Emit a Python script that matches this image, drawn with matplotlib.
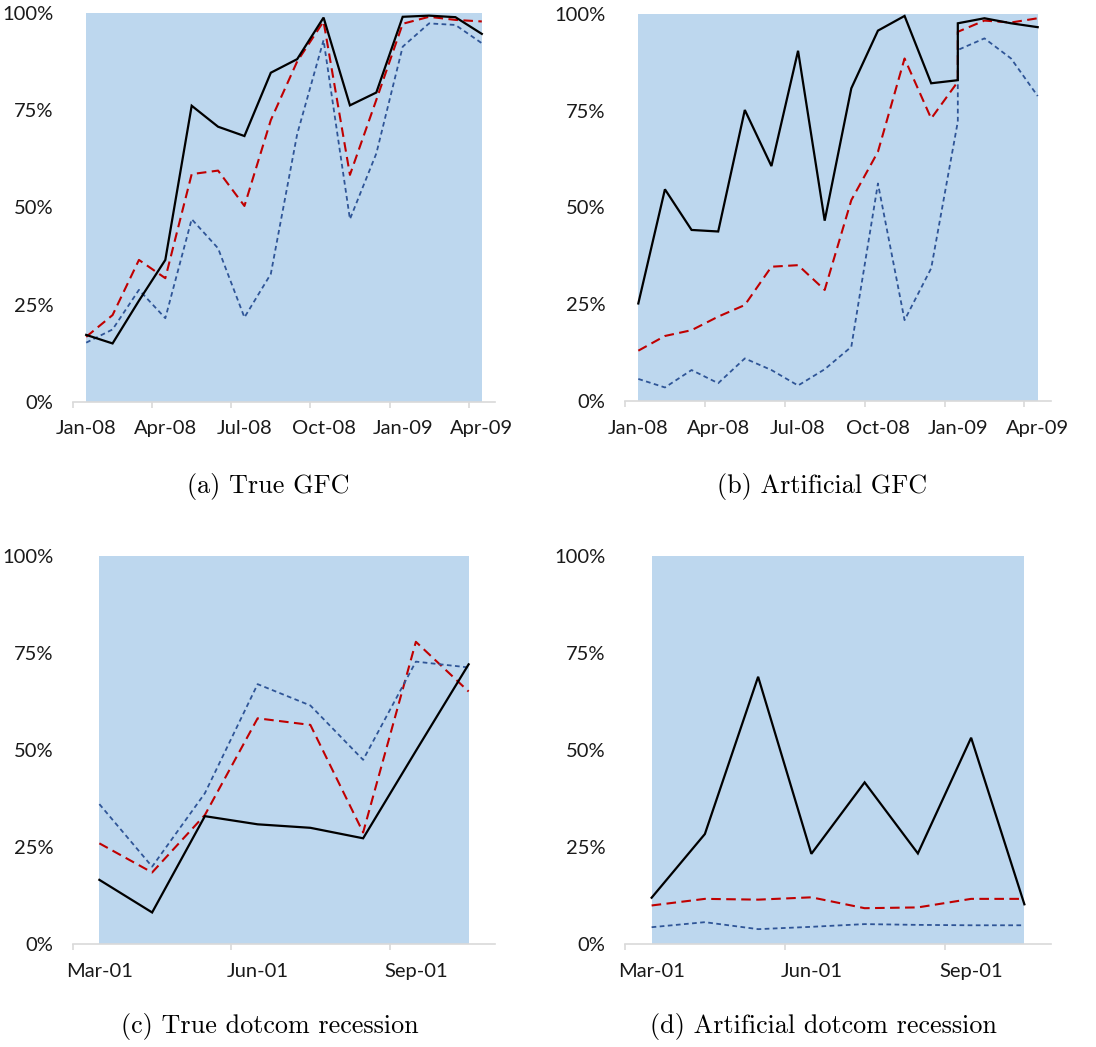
import matplotlib
matplotlib.use("Agg")
import matplotlib.pyplot as plt
from matplotlib.ticker import FixedLocator, NullFormatter, FixedFormatter

# ---- data -------------------------------------------------------------
gfc_months = ["Jan-08", "Feb-08", "Mar-08", "Apr-08", "May-08", "Jun-08",
              "Jul-08", "Aug-08", "Sep-08", "Oct-08", "Nov-08", "Dec-08",
              "Jan-09", "Feb-09", "Mar-09", "Apr-09"]
dotcom_months = ["Mar-01", "Apr-01", "May-01", "Jun-01", "Jul-01",
                 "Aug-01", "Sep-01", "Oct-01"]

# (a) true GFC
true_gfc_x = list(range(16))
true_gfc_black = [17.2, 15.0, 26.0, 36.5, 76.2, 70.8, 68.4, 84.7,
                  88.2, 98.9, 76.3, 79.6, 99.1, 99.4, 99.0, 94.7]
true_gfc_red = [16.7, 22.3, 36.5, 31.8, 58.6, 59.5, 50.4, 72.5,
                87.6, 97.9, 58.4, 77.7, 97.3, 99.1, 98.3, 97.9]
true_gfc_blue = [15.2, 18.6, 28.8, 21.5, 47.0, 39.5, 21.7, 32.9,
                 68.9, 93.1, 47.0, 63.9, 91.4, 97.4, 97.0, 92.3]

# (b) artificial GFC (two observations fall in Jan-09)
art_gfc_x = [0, 1, 2, 3, 4, 5, 6, 7, 8, 9, 10, 11, 12, 12, 13, 14, 15]
art_gfc_black = [25.2, 54.7, 44.2, 43.8, 75.2, 60.7, 90.5, 46.6, 80.8,
                 95.7, 99.5, 82.1, 82.9, 97.6, 98.9, 97.6, 96.6]
art_gfc_red = [13.0, 16.8, 18.3, 21.8, 24.8, 34.7, 35.1, 28.7, 51.9,
               64.4, 88.5, 73.0, 82.5, 95.4, 98.3, 97.8, 98.9]
art_gfc_blue = [5.7, 3.5, 8.0, 4.6, 11.0, 8.0, 4.0, 8.2, 14.0,
                56.2, 20.9, 34.3, 72.2, 90.7, 93.7, 88.5, 78.8]

# (c) true dotcom recession
true_dot_x = list(range(8))
true_dot_black = [16.6, 8.2, 33.0, 30.9, 30.0, 27.3, 49.8, 72.1]
true_dot_red = [26.0, 18.5, 33.3, 58.2, 56.5, 28.8, 77.9, 65.1]
true_dot_blue = [36.1, 20.0, 38.9, 67.0, 61.5, 47.5, 72.8, 71.3]

# (d) artificial dotcom recession
art_dot_x = list(range(8))
art_dot_black = [12.0, 28.4, 68.9, 23.3, 41.7, 23.4, 53.2, 10.3]
art_dot_red = [10.0, 11.7, 11.5, 12.1, 9.3, 9.5, 11.7, 11.7]
art_dot_blue = [4.4, 5.7, 3.9, 4.5, 5.2, 5.0, 4.9, 4.9]

y_ticks = [0, 25, 50, 75, 100]
y_labels = ["0%", "25%", "50%", "75%", "100%"]
captions = ["(a) True GFC", "(b) Artificial GFC",
            "(c) True dotcom recession", "(d) Artificial dotcom recession"]

# ---- styling ----------------------------------------------------------
SHADE = "#BDD7EE"
BLACK = "#000000"
RED = "#C00000"
BLUE = "#2F5597"
AXIS_GREY = "#D9D9D9"
TEXT = "#1A1A1A"
TICK_FONT = ["Lato", "DejaVu Sans"]
TICK_SIZE = 14.5

W, H = 1096, 1047
fig = plt.figure(figsize=(W / 100, H / 100), dpi=100)


def px_axes(left, right, top, bottom):
    return fig.add_axes([left / W, 1 - bottom / H, (right - left) / W,
                         (bottom - top) / H])


def draw_panel(ax, n, labels, xs, black, red, blue):
    ax.set_xlim(-0.5, n - 0.5)
    ax.set_ylim(0, 100)
    ax.axvspan(0, n - 1, color=SHADE, lw=0, zorder=0)
    ax.plot(xs, black, color=BLACK, lw=1.6, solid_joinstyle="miter",
            zorder=3)
    ax.plot(xs, red, color=RED, lw=1.5, linestyle=(0, (4.6, 2.6)), zorder=2)
    ax.plot(xs, blue, color=BLUE, lw=1.3, linestyle=(0, (2.6, 1.9)),
            zorder=2)
    for s in ("left", "right", "top"):
        ax.spines[s].set_visible(False)
    ax.spines["bottom"].set_color(AXIS_GREY)
    ax.spines["bottom"].set_linewidth(1.2)
    # tick marks at category boundaries, labels on every third month
    ax.xaxis.set_major_locator(FixedLocator([b - 0.5 for b in range(0, n, 3)]))
    ax.xaxis.set_major_formatter(NullFormatter())
    lab_pos = list(range(0, n, 3))
    ax.xaxis.set_minor_locator(FixedLocator(lab_pos))
    ax.xaxis.set_minor_formatter(FixedFormatter([labels[i] for i in lab_pos]))
    ax.tick_params(axis="x", which="major", length=4.5, width=1.2,
                   color=AXIS_GREY, direction="out")
    ax.tick_params(axis="x", which="minor", length=0, pad=13.5,
                   labelsize=TICK_SIZE, labelcolor=TEXT)
    ax.set_yticks(y_ticks)
    ax.set_yticklabels(y_labels)
    ax.tick_params(axis="y", length=0, pad=14, labelsize=TICK_SIZE,
                   labelcolor=TEXT)
    for t in ax.get_xticklabels(minor=True) + ax.get_yticklabels():
        t.set_family(TICK_FONT)


ax_a = px_axes(73, 495, 13.3, 401.7)
ax_b = px_axes(625, 1051, 14, 401)
ax_c = px_axes(73, 495, 556, 944.3)
ax_d = px_axes(625, 1051, 556, 944.3)

draw_panel(ax_a, 16, gfc_months, true_gfc_x, true_gfc_black, true_gfc_red,
           true_gfc_blue)
draw_panel(ax_b, 16, gfc_months, art_gfc_x, art_gfc_black, art_gfc_red,
           art_gfc_blue)
draw_panel(ax_c, 8, dotcom_months, true_dot_x, true_dot_black, true_dot_red,
           true_dot_blue)
draw_panel(ax_d, 8, dotcom_months, art_dot_x, art_dot_black, art_dot_red,
           art_dot_blue)

cap_pos = [(268, 487), (822, 487), (270, 1027), (823, 1027)]
for (cx, cy), text in zip(cap_pos, captions):
    fig.text(cx / W, 1 - cy / H, text, ha="center", va="center",
             family="cmr10", fontsize=18.8, color="black")

fig.savefig("out.png", dpi=100)
